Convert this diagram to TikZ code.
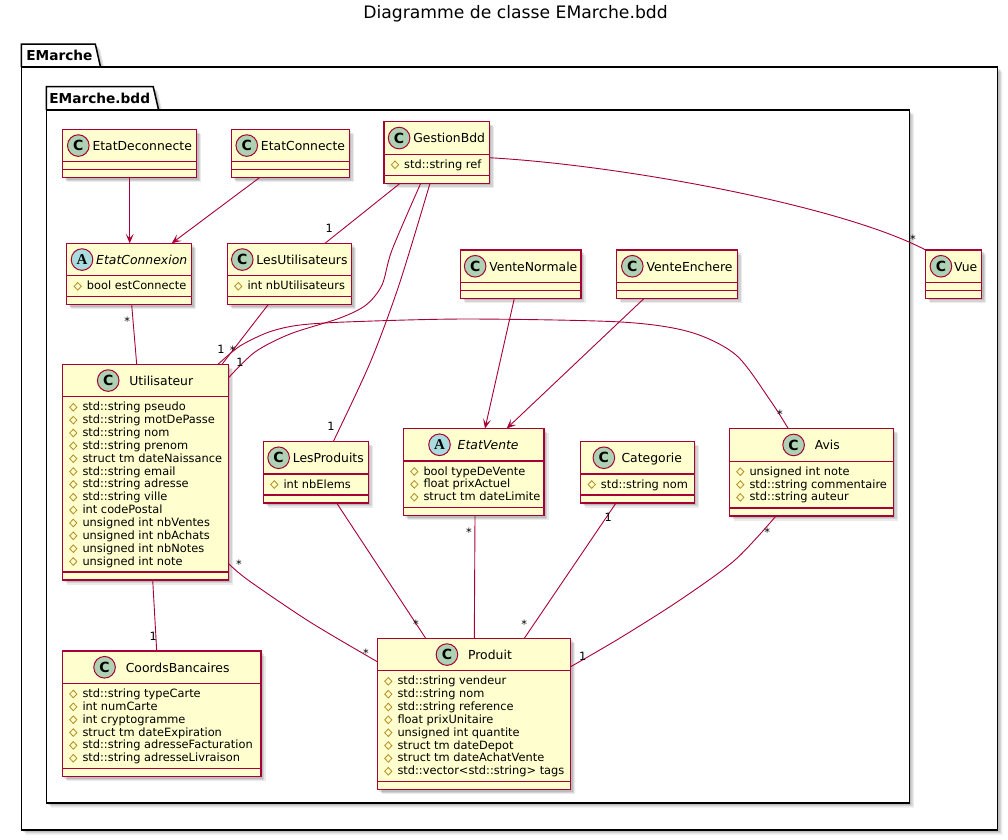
\documentclass[tikz,border=0pt]{standalone}
\usepackage{fontspec}
\setmainfont{DejaVu Sans}
\newfontfamily\iconserif{Liberation Serif}
\usetikzlibrary{arrows.meta,shadows}

\definecolor{umlborder}{HTML}{A80036}
\definecolor{umlfill}{HTML}{FEFECE}
\definecolor{iconclass}{HTML}{ADD1B2}
\definecolor{iconabstract}{HTML}{A9DCDF}
\definecolor{fieldgold}{HTML}{B38D22}

\tikzset{
  % soft shadow built from three stacked translucent layers
  softshadow/.style={
    drop shadow={shadow xshift=1.8pt,shadow yshift=-1.8pt,opacity=0.10,fill=black},
    drop shadow={shadow xshift=3.2pt,shadow yshift=-3.2pt,opacity=0.10,fill=black},
    drop shadow={shadow xshift=4.6pt,shadow yshift=-4.6pt,opacity=0.08,fill=black}},
  pkgbody/.style={fill=white, softshadow},
  pkgline/.style={draw=black, line width=1.5pt},
  pkgname/.style={inner sep=0pt, font=\fontsize{13.7}{16}\selectfont\bfseries},
  classbox/.style={rectangle, draw=umlborder, fill=umlfill, line width=1.2pt, inner sep=0pt, outer sep=0pt, softshadow},
  compline/.style={draw=umlborder, line width=1.2pt},
  Cname/.style={inner sep=0pt, font=\fontsize{12.4}{14}\selectfont},
  Aname/.style={inner sep=0pt, font=\fontsize{12.4}{14}\selectfont\itshape},
  iconbase/.style={circle, draw=umlborder, line width=1pt, minimum size=21.6pt, inner sep=0pt},
  iconC/.style={iconbase, fill=iconclass, font=\fontsize{14}{14}\selectfont\bfseries},
  iconA/.style={iconbase, fill=iconabstract, font=\iconserif\fontsize{15}{15}\selectfont\bfseries},
  fieldmark/.style={draw=fieldgold, line width=0.8pt},
  field/.style={inner sep=0pt, font=\fontsize{11.4}{12.85}\selectfont},
  mult/.style={inner sep=0pt, font=\fontsize{11.4}{13}\selectfont},
  assoc/.style={draw=umlborder, line width=0.9pt},
  depend/.style={assoc, -{Stealth[length=9.5pt,width=8pt,inset=4.5pt]}},
  heading/.style={inner sep=0pt, font=\fontsize{17.2}{20}\selectfont},
}

% class box: id, left, top, right, number of fields, icon letter (C/A), icon gap, name
\newcommand\umlclass[8]{%
  \pgfmathsetmacro\umlh{ifthenelse(#5==0,48.5,32.5+#5*12.85+16.2)}%
  \pgfmathsetmacro\umlw{#4-#2}%
  \pgfmathsetmacro\umlsep{ifthenelse(#5==0,40.5,32.5+#5*12.85+8.2)}%
  \node[classbox, minimum width=\umlw pt, minimum height=\umlh pt, anchor=north west] (#1) at (#2,#3) {};
  \draw[compline] (#2,#3+32.5) -- (#4,#3+32.5);
  \draw[compline] (#2,#3+\umlsep) -- (#4,#3+\umlsep);
  \node[#6name, anchor=base] (#1-name) at ({(#2+#4)/2+(22+#7)/2},#3+21) {#8};
  \node[icon#6] (#1-icon) at ([xshift={-(#7+11)*1pt},yshift=4.75pt]#1-name.base west) {#6};
}

% protected fields: id, list
\newcommand\umlfields[2]{%
  \foreach \ftext [count=\idx] in {#2} {%
    \pgfmathsetmacro\fy{43+(\idx-1)*12.85}%
    \pgfmathsetmacro\fyb{\fy+3.5}%
    \draw[fieldmark] ([xshift=11pt,yshift=-\fy pt]#1.north west) ++(0,-3.8) -- ++(3.6,3.8) -- ++(-3.6,3.8) -- ++(-3.6,-3.8) -- cycle;
    \node[field, anchor=base west] (#1-f\idx) at ([xshift=20pt,yshift=-\fyb pt]#1.north west) {\ftext};
  }%
}

% multiplicities: id, x, y of glyph centre
\newcommand\multone[3]{\node[mult, anchor=base] (#1) at (#2,#3+4.2) {1};}
\newcommand\multmany[3]{\node[mult, anchor=base] (#1) at (#2,#3+6.4) {*};}

\begin{document}
\begin{tikzpicture}[x=1pt,y=-1pt]
\useasboundingbox (0,0) rectangle (1008,839);

\node[heading, anchor=base] (title) at (515.5,18) {Diagramme de classe EMarche.bdd};

% package EMarche
\fill[pkgbody] (21.3,67) -- (21.3,44) -- (95.3,44) -- (100.5,67) -- (997.7,67) -- (997.7,830) -- (21.3,830) -- cycle;
\draw[pkgline] (21.3,67) -- (21.3,44) -- (95.3,44) -- (100.5,67);
\draw[pkgline] (21.3,67) rectangle (997.7,830);
\node[pkgname, anchor=base west] (pkg-emarche) at (26.1,60.5) {EMarche};

% package EMarche.bdd
\fill[pkgbody] (46.3,110) -- (46.3,86.7) -- (153.2,86.7) -- (158.6,110) -- (909.3,110) -- (909.3,803) -- (46.3,803) -- cycle;
\draw[pkgline] (46.3,110) -- (46.3,86.7) -- (153.2,86.7) -- (158.6,110);
\draw[pkgline] (46.3,110) rectangle (909.3,803);
\node[pkgname, anchor=base west] (pkg-bdd) at (49.1,103.2) {EMarche.bdd};

% classes
\umlclass{edc}{62.7}{129.3}{196.7}{0}{C}{3}{EtatDeconnecte}
\umlclass{ec}{231.7}{129.3}{349.3}{0}{C}{3}{EtatConnecte}
\umlclass{gb}{384}{121.8}{489.3}{1}{C}{3}{GestionBdd}
\umlfields{gb}{std::string ref}
\umlclass{cnx}{66.7}{243.3}{191.7}{1}{A}{3}{EtatConnexion}
\umlfields{cnx}{bool estConnecte}
\umlclass{lu}{227.3}{243.3}{351.7}{1}{C}{3}{LesUtilisateurs}
\umlfields{lu}{int nbUtilisateurs}
\umlclass{vn}{460.7}{250}{581}{0}{C}{3}{VenteNormale}
\umlclass{ve}{616.7}{250}{737.3}{0}{C}{3}{VenteEnchere}
\umlclass{vue}{925.7}{250}{981.7}{0}{C}{2}{Vue}
\umlclass{util}{62.3}{364.3}{228.3}{13}{C}{10}{Utilisateur}
\umlfields{util}{std::string pseudo, std::string motDePasse, std::string nom, std::string prenom, struct tm dateNaissance, std::string email, std::string adresse, std::string ville, int codePostal, unsigned int nbVentes, unsigned int nbAchats, unsigned int nbNotes, unsigned int note}
\umlclass{lp}{263.3}{441.5}{368.3}{1}{C}{3}{LesProduits}
\umlfields{lp}{int nbElems}
\umlclass{ev}{403.3}{428.5}{544}{3}{A}{7}{EtatVente}
\umlfields{ev}{bool typeDeVente, float prixActuel, struct tm dateLimite}
\umlclass{cat}{580.7}{441.5}{694.3}{1}{C}{6.5}{Categorie}
\umlfields{cat}{std::string nom}
\umlclass{avis}{729.3}{428.7}{893.3}{3}{C}{10}{Avis}
\umlfields{avis}{unsigned int note, std::string commentaire, std::string auteur}
\umlclass{cb}{62.3}{651}{261}{6}{C}{10}{CoordsBancaires}
\umlfields{cb}{std::string typeCarte, int numCarte, int cryptogramme, struct tm dateExpiration, std::string adresseFacturation, std::string adresseLivraison}
\umlclass{prod}{377.3}{638.3}{570.7}{8}{C}{10}{Produit}
\umlfields{prod}{std::string vendeur, std::string nom, std::string reference, float prixUnitaire, unsigned int quantite, struct tm dateDepot, struct tm dateAchatVente, std::vector<std::string> tags}

% dependencies towards the abstract states
\draw[depend] (edc.south) -- (edc.south |- cnx.north);
\draw[depend] ([xshift=27.6pt]ec.south west) -- ([xshift=105pt]cnx.north west);
\draw[depend] ([xshift=53.6pt]vn.south west) -- ([xshift=81.7pt]ev.north west);
\draw[depend] ([xshift=27.3pt]ve.south west) -- ([xshift=103.4pt]ev.north west);

% associations
\draw[assoc] ([xshift=16pt]gb.south west) -- ([xshift=97.7pt]lu.north west);
\draw[assoc] plot[smooth] coordinates {([xshift=36.7pt]gb.south west) (392,250) (382,285) (366,305) (340,318) (290,334) (255,352) ([yshift=-13.7pt]util.north east)};
\draw[assoc] plot[smooth] coordinates {([xshift=46pt]gb.south west) (399,285) (370,363) ([xshift=70pt]lp.north west)};
\draw[assoc] ([yshift=-35.9pt]gb.north east) .. controls (620,165) and (840,205) .. (vue.north west);
\draw[assoc] ([xshift=40.7pt]lu.south west) -- ([xshift=159.7pt]util.north west);
\draw[assoc] plot[smooth] coordinates {([xshift=155.7pt]util.north west) (240,346) (269,332) (300,325) (353,321.7) (468,319) (621,322) (690,332) (736,355) (770,400) ([xshift=59pt]avis.north west)};
\draw[assoc] ([xshift=65pt]cnx.south west) -- ([xshift=74.4pt]util.north west);
\draw[assoc] ([xshift=90.4pt]util.south west) -- ([xshift=94.4pt]cb.north west);
\draw[assoc] plot[smooth] coordinates {([yshift=16.7pt]util.south east) (248,580) (310,622) ([yshift=-23.4pt]prod.north west)};
\draw[assoc] ([xshift=73.4pt]lp.south west) -- ([xshift=48.4pt]prod.north west);
\draw[assoc] ([xshift=71.7pt]ev.south west) -- ([xshift=97pt]prod.north west);
\draw[assoc] ([xshift=35.3pt]cat.south west) -- ([xshift=147pt]prod.north west);
\draw[assoc] plot[smooth] coordinates {([xshift=46.7pt]avis.south west) (735,560) (680,600) (620,638) ([yshift=-28.4pt]prod.north east)};

% multiplicities
\multone{m1}{329.3}{228}
\multone{m2}{240}{362}
\multone{m3}{331}{426}
\multmany{m4}{913}{236.7}
\multone{m5}{221}{349.5}
\multmany{m6}{232.7}{348}
\multmany{m7}{780}{411.7}
\multmany{m8}{127.3}{319.3}
\multone{m9}{153.3}{636.7}
\multmany{m10}{239}{562}
\multmany{m11}{366}{651}
\multmany{m12}{416}{621.7}
\multmany{m13}{469}{530}
\multone{m14}{608.3}{517.7}
\multmany{m15}{524.3}{621.7}
\multmany{m16}{767.3}{530}
\multone{m17}{582.7}{656.7}
\end{tikzpicture}
\end{document}
